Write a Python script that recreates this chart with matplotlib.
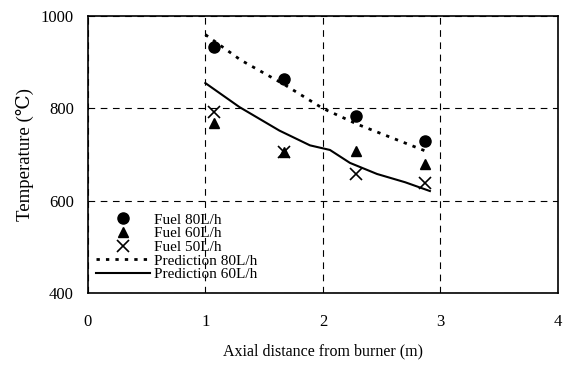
import matplotlib
matplotlib.use("Agg")
import matplotlib.pyplot as plt

# measured data
dist = [1.07, 1.67, 2.28, 2.87]
fuel80 = [933, 863, 783, 729]
fuel60 = [768, 705, 708, 680]
fuel50 = [792, 706, 658, 638]

pred80_x = [1.0, 1.3, 1.67, 2.0, 2.3, 2.6, 2.87]
pred80_y = [960, 905, 852, 800, 765, 735, 708]

pred60_x = [1.0, 1.29, 1.63, 1.89, 2.06, 2.23, 2.46, 2.7, 2.91]
pred60_y = [855, 803, 752, 720, 710, 682, 658, 640, 621]

plt.rcParams["font.family"] = ["Liberation Serif", "DejaVu Serif"]

fig = plt.figure(figsize=(5.7, 3.67), dpi=100)
ax = fig.add_axes([0.154, 0.2016, 0.825, 0.7544])

ax.plot(dist, fuel80, "o", color="black", markersize=8, label="Fuel 80L/h")
ax.plot(dist, fuel60, "^", color="black", markersize=7, label="Fuel 60L/h")
ax.plot(dist, fuel50, "x", color="black", markersize=8, markeredgewidth=1.2, label="Fuel 50L/h")
ax.plot(pred80_x, pred80_y, color="black", linestyle=(0, (1.2, 2.2)), linewidth=2, label="Prediction 80L/h")
ax.plot(pred60_x, pred60_y, color="black", linestyle="-", linewidth=1.5, label="Prediction 60L/h")

ax.set_xlim(0, 4)
ax.set_ylim(400, 1000)
ax.set_xticks([0, 1, 2, 3, 4])
ax.set_yticks([400, 600, 800, 1000])
ax.tick_params(axis="both", length=0, labelsize=12)
ax.tick_params(axis="x", pad=15)
ax.tick_params(axis="y", pad=10)
ax.grid(True, color="black", linestyle=(0, (6, 5)), linewidth=0.8)
for s in ax.spines.values():
    s.set_linewidth(1.2)

ax.set_xlabel("Axial distance from burner (m)", fontsize=11.5, labelpad=10)
ax.set_ylabel("Temperature (\u2103)", fontsize=13.5, labelpad=5)

ax.legend(loc="lower left", frameon=False, fontsize=11, handlelength=3.5,
          handletextpad=0.3, labelspacing=0.0, borderaxespad=0.0,
          bbox_to_anchor=(0.005, 0.02))

fig.savefig("out.png", dpi=100)
